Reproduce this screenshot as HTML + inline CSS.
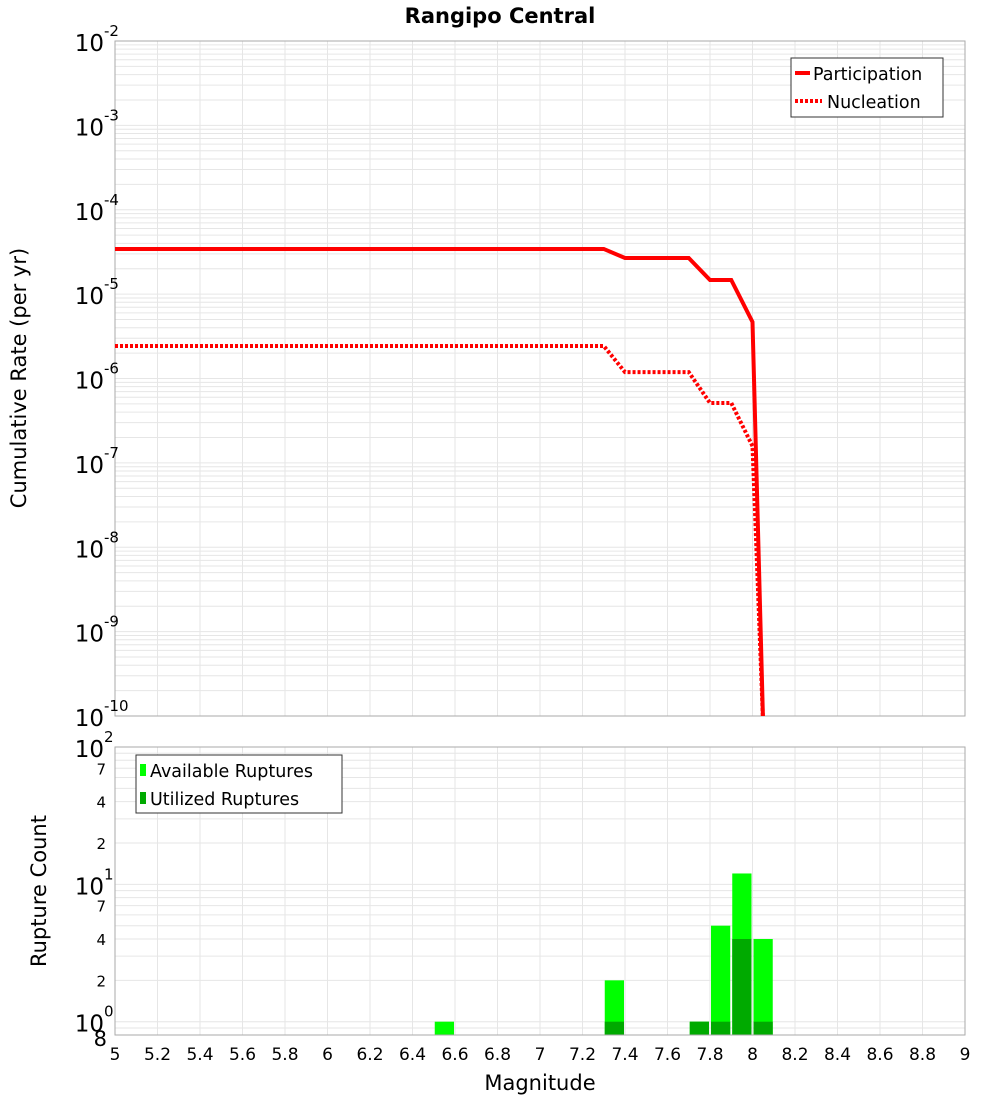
<!DOCTYPE html>
<html><head><meta charset="utf-8"><style>
html,body{margin:0;padding:0;background:#fff;}
svg{display:block;font-family:"DejaVu Sans","Liberation Sans",sans-serif;}
</style></head><body>
<svg id="chart" width="1000" height="1100" viewBox="0 0 1000 1100" xmlns="http://www.w3.org/2000/svg">
<text x="500" y="23" text-anchor="middle" font-size="21" font-weight="bold">Rangipo Central</text>
<g id="topG"></g>
<g id="botG"></g>
<text transform="translate(26,378) rotate(-90)" text-anchor="middle" font-size="21">Cumulative Rate (per yr)</text>
<text transform="translate(46,891) rotate(-90)" text-anchor="middle" font-size="21">Rupture Count</text>
<text x="540" y="1090" text-anchor="middle" font-size="21">Magnitude</text>
</svg>
<script>
const partMags=[5,7.3,7.4,7.7,7.8,7.9,8.0,8.05];
const partRates=[3.43e-5,3.43e-5,2.68e-5,2.68e-5,1.47e-5,1.47e-5,4.68e-6,8e-11];
const nuclMags=[5,7.3,7.4,7.7,7.8,7.9,8.0,8.05];
const nuclRates=[2.43e-6,2.43e-6,1.19e-6,1.19e-6,5.13e-7,5.13e-7,1.58e-7,8e-11];
const binCenters=[6.55,7.35,7.75,7.85,7.95,8.05];
const availCounts=[1,2,1,5,12,4];
const utilCounts=[0,1,1,1,4,1];
const xTicks=[5,5.2,5.4,5.6,5.8,6,6.2,6.4,6.6,6.8,7,7.2,7.4,7.6,7.8,8,8.2,8.4,8.6,8.8,9];

const NS="http://www.w3.org/2000/svg";
const L=115,R=965;
const X=m=>L+(m-5)/4*(R-L);
const T0=41,T1=716;
const YT=v=>T0+(-2-Math.log10(v))/8*(T1-T0);
const B0=747,B1=1035;
const YB=v=>B1-(Math.log10(v)-Math.log10(0.8))/(2-Math.log10(0.8))*(B1-B0);
function mk(tag,attrs,parent){const e=document.createElementNS(NS,tag);for(const k in attrs)e.setAttribute(k,attrs[k]);parent.appendChild(e);return e;}
const topG=document.getElementById('topG'),botG=document.getElementById('botG'),svgRoot=document.getElementById('chart');
for(let d=-10;d<-2;d++){for(let k=1;k<10;k++){const y=YT(k*Math.pow(10,d));const l=mk('line',{x1:L,x2:R,y1:y,y2:y,stroke:'#e6e6e6','stroke-width':1},topG);

}}
xTicks.forEach(t=>{const l=mk('line',{x1:X(t),x2:X(t),y1:T0,y2:T1,stroke:'#e6e6e6','stroke-width':1},topG);


const l2=mk('line',{x1:X(t),x2:X(t),y1:B0,y2:B1,stroke:'#e6e6e6','stroke-width':1},botG);

});
const f1=mk('rect',{x:L,y:T0,width:R-L,height:T1-T0,fill:'none',stroke:'#aaa'},topG);


for(let d=-10;d<=-2;d++){const y=YT(Math.pow(10,d));const t=mk('text',{x:104,y:y+10,'text-anchor':'end','font-size':23},topG);t.textContent='10';


const s=mk('text',{x:104,y:y-5,'font-size':15},topG);s.textContent=String(d);

}
const clip=mk('clipPath',{id:'cp'},topG);mk('rect',{x:L,y:T0,width:R-L,height:T1-T0},clip);
const p1=mk('polyline',{points:partMags.map((m,i)=>X(m)+','+YT(partRates[i])).join(' '),fill:'none',stroke:'#f00','stroke-width':4,'clip-path':'url(#cp)'},topG);


const p2=mk('polyline',{points:nuclMags.map((m,i)=>X(m)+','+YT(nuclRates[i])).join(' '),fill:'none',stroke:'#f00','stroke-width':4,'stroke-dasharray':'3,2','clip-path':'url(#cp)'},topG);


for(let d=-1;d<2;d++){for(let k=1;k<10;k++){const v=k*Math.pow(10,d);if(v<0.8)continue;const y=YB(v);const l=mk('line',{x1:L,x2:R,y1:y,y2:y,stroke:'#e6e6e6','stroke-width':1},botG);

}}
binCenters.forEach((c,i)=>{const x0=X(c-0.05)+1,w=X(c+0.05)-X(c-0.05)-2;
const a=mk('rect',{x:x0,y:YB(availCounts[i]),width:w,height:B1-YB(availCounts[i]),fill:'#00ff00'},botG);


if(utilCounts[i]>0){const u=mk('rect',{x:x0,y:YB(utilCounts[i]),width:w,height:B1-YB(utilCounts[i]),fill:'#00aa00'},botG);

}});
const f2=mk('rect',{x:L,y:B0,width:R-L,height:B1-B0,fill:'none',stroke:'#aaa'},botG);


[0,1,2].forEach(d=>{const y=YB(Math.pow(10,d));const t=mk('text',{x:104,y:y+10,'text-anchor':'end','font-size':23},botG);t.textContent='10';


const s=mk('text',{x:104,y:y-5,'font-size':15},botG);s.textContent=String(d);

});
[[0.8,'8'],[2,'2'],[4,'4'],[7,'7'],[20,'2'],[40,'4'],[70,'7']].forEach(([v,lab])=>{const t=mk('text',{x:v<1?107:106,y:YB(v)+(v<1?11:6),'text-anchor':'end','font-size':v<1?21:15},botG);t.textContent=lab;

});
xTicks.forEach(t=>{const e=mk('text',{x:X(t),y:1060,'text-anchor':'middle','font-size':17},botG);e.textContent=String(t);

});
// legends on top
const lg1=mk('g',{},svgRoot);


mk('rect',{x:791,y:58,width:152,height:59,fill:'#fff',stroke:'#333'},lg1);
mk('line',{x1:795,y1:73,x2:810,y2:73,stroke:'#f00','stroke-width':4},lg1);
const lt1=mk('text',{x:813,y:80,'font-size':17.5},lg1);lt1.textContent='Participation';
mk('line',{x1:795,y1:101,x2:822,y2:101,stroke:'#f00','stroke-width':4,'stroke-dasharray':'3,2'},lg1);
const lt2=mk('text',{x:827,y:108,'font-size':17.5},lg1);lt2.textContent='Nucleation';
const lg2=mk('g',{},svgRoot);


mk('rect',{x:136,y:755,width:206,height:58,fill:'#fff',stroke:'#333'},lg2);
mk('rect',{x:140,y:764,width:6,height:12,fill:'#00ff00'},lg2);
const lt3=mk('text',{x:150,y:777,'font-size':17.5},lg2);lt3.textContent='Available Ruptures';
mk('rect',{x:140,y:792,width:6,height:12,fill:'#00aa00'},lg2);
const lt4=mk('text',{x:150,y:805,'font-size':17.5},lg2);lt4.textContent='Utilized Ruptures';
</script>
</body></html>
